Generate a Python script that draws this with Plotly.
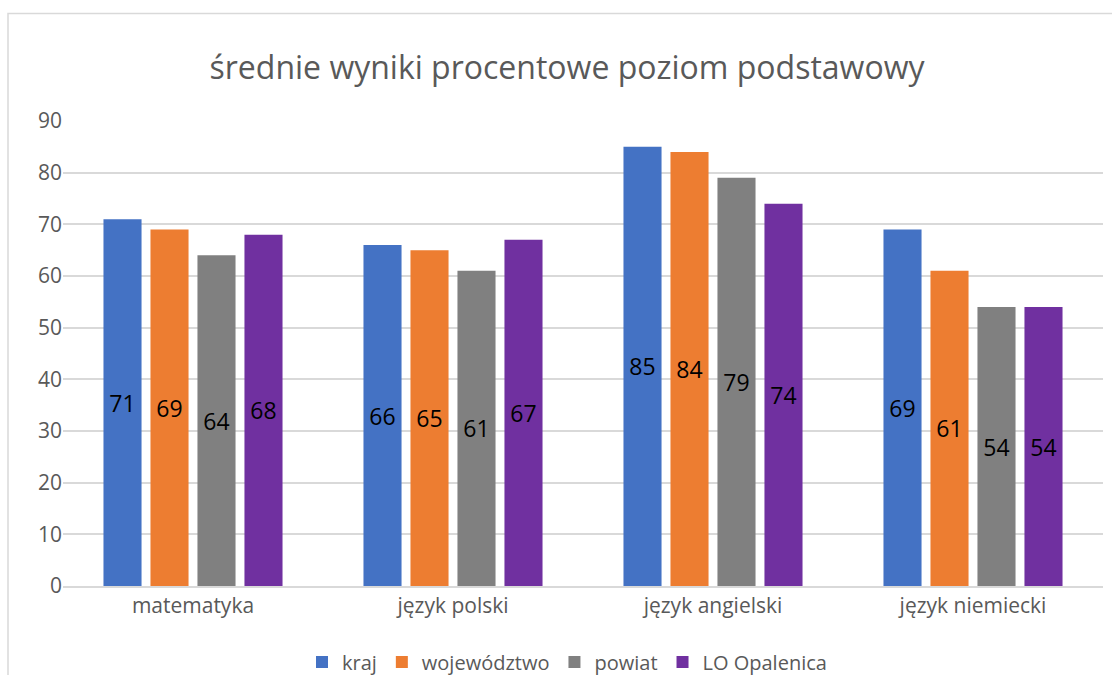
import plotly.graph_objects as go

categories = ["matematyka", "język polski", "język angielski", "język niemiecki"]
series_names = ["kraj", "województwo", "powiat", "LO Opalenica"]
kraj = [71, 66, 85, 69]
wojewodztwo = [69, 65, 84, 61]
powiat = [64, 61, 79, 54]
lo_opalenica = [68, 67, 74, 54]
colors = ["#4472C4", "#ED7D31", "#808080", "#7030A0"]

values = [kraj, wojewodztwo, powiat, lo_opalenica]
FONT = "Open Sans, Liberation Sans, sans-serif"

fig = go.Figure()
for name, vals, col in zip(series_names, values, colors):
    fig.add_trace(go.Bar(
        x=categories, y=vals, name=name, marker=dict(color=col, line=dict(width=0)),
        text=[str(v) for v in vals], textposition="inside", insidetextanchor="middle",
        textfont=dict(color="black", size=23, family=FONT), textangle=0,
        cliponaxis=False,
    ))

fig.update_layout(
    width=1112, height=675,
    margin=dict(l=63, r=9, t=121, b=89, autoexpand=False),
    paper_bgcolor="white", plot_bgcolor="white",
    barmode="group", bargap=0.277, bargroupgap=0.19,
    uniformtext=dict(minsize=23, mode="show"),
    title=dict(text="średnie wyniki procentowe poziom podstawowy",
               x=(567 - 63) / 1040, xref="paper", xanchor="center", y=1 - 68/675, yanchor="middle",
               font=dict(size=32, color="#595959", family=FONT)),
    font=dict(family=FONT, color="#595959"),
    legend=dict(orientation="h", x=(567 - 63) / 1040, xanchor="center", y=-(662 - 586) / 465,
                yanchor="middle",
                font=dict(size=20, color="#595959", family=FONT), traceorder="normal",
                itemwidth=30),
    xaxis=dict(showgrid=False, showline=True, linecolor="#d9d9d9", linewidth=2,
               ticks="", tickfont=dict(size=21, color="#595959")),
    yaxis=dict(range=[0, 90], dtick=10, showgrid=True, gridcolor="#d9d9d9", gridwidth=1.5,
               zeroline=False, showline=False, ticks="", ticklen=0,
               tickfont=dict(size=21, color="#595959")),
    shapes=[dict(type="rect", xref="paper", yref="paper",
                 x0=(8 - 63) / 1040, x1=(1130 - 63) / 1040,
                 y0=-(720 - 586) / 465, y1=1 + (121 - 13.5) / 465,
                 line=dict(color="#d9d9d9", width=1.5), layer="below")],
)

fig.write_html("out.html", config={"displayModeBar": False},
               post_script="document.body.style.margin='0';document.body.style.overflow='hidden';")
